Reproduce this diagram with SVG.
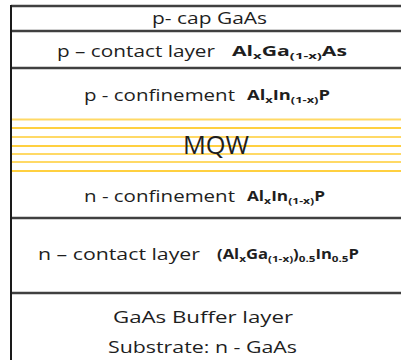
<svg xmlns="http://www.w3.org/2000/svg" width="401" height="360" viewBox="0 0 401 360">
<style>
.bg{fill:#ffffff}
.div{stroke:#404040;stroke-width:2.5;fill:none}
.border{stroke:#1a1a1a;stroke-width:2;fill:none}
.qw{stroke:#FFC000;stroke-width:1.5;fill:none}
.qwl{stroke:#FFD966;stroke-width:2;fill:none}
.t{font-family:"Open Sans","Noto Sans","DejaVu Sans",sans-serif;font-size:17px;fill:#1e1e1e}
.big{font-size:25px}
.f{font-family:"Open Sans","Noto Sans","DejaVu Sans",sans-serif;font-weight:bold;font-size:13.5px;fill:#1e1e1e}
.s{font-size:9.5px}
</style>
<rect class="bg" x="0" y="0" width="401" height="360"/>
<g id="connectors">
<line class="div" x1="11" y1="6" x2="401" y2="6"/>
<line class="div" x1="11" y1="31" x2="401" y2="31"/>
<line class="div" x1="11" y1="68" x2="401" y2="68"/>
<line class="div" x1="11" y1="218" x2="401" y2="218"/>
<line class="div" x1="11" y1="293" x2="401" y2="293"/>
<line class="border" x1="11" y1="5" x2="11" y2="360"/>
</g>
<g id="cap">
<text class="t" x="152" y="24" textLength="115" lengthAdjust="spacingAndGlyphs">p- cap GaAs</text>
</g>
<g id="p-contact">
<text class="t" x="57" y="57" textLength="158" lengthAdjust="spacingAndGlyphs">p – contact layer</text>
<text class="f" x="232" y="56" textLength="115" lengthAdjust="spacingAndGlyphs">Al<tspan class="s" dy="3">x</tspan><tspan dy="-3">Ga</tspan><tspan class="s" dy="3">(1-x)</tspan><tspan dy="-3">As</tspan></text>
</g>
<g id="p-confinement">
<text class="t" x="84" y="101" textLength="151" lengthAdjust="spacingAndGlyphs">p - confinement</text>
<text class="f" x="247" y="100" textLength="83" lengthAdjust="spacingAndGlyphs">Al<tspan class="s" dy="3">x</tspan><tspan dy="-3">In</tspan><tspan class="s" dy="3">(1-x)</tspan><tspan dy="-3">P</tspan></text>
</g>
<g id="mqw">
<line class="qwl" x1="12" y1="119.5" x2="401" y2="119.5"/>
<line class="qw" x1="12" y1="128" x2="401" y2="128"/>
<line class="qwl" x1="12" y1="137" x2="401" y2="137"/>
<line class="qw" x1="12" y1="146" x2="401" y2="146"/>
<line class="qwl" x1="12" y1="154" x2="401" y2="154"/>
<line class="qwl" x1="12" y1="162" x2="401" y2="162"/>
<line class="qw" x1="12" y1="171" x2="401" y2="171"/>
<text class="t big" x="183" y="154" textLength="66" lengthAdjust="spacingAndGlyphs">MQW</text>
</g>
<g id="n-confinement">
<text class="t" x="84" y="202" textLength="151" lengthAdjust="spacingAndGlyphs">n - confinement</text>
<text class="f" x="247" y="201" textLength="78" lengthAdjust="spacingAndGlyphs">Al<tspan class="s" dy="3">x</tspan><tspan dy="-3">In</tspan><tspan class="s" dy="3">(1-x)</tspan><tspan dy="-3">P</tspan></text>
</g>
<g id="n-contact">
<text class="t" x="38" y="260" textLength="162" lengthAdjust="spacingAndGlyphs">n – contact layer</text>
<text class="f" x="217" y="259" textLength="142" lengthAdjust="spacingAndGlyphs">(Al<tspan class="s" dy="3">x</tspan><tspan dy="-3">Ga</tspan><tspan class="s" dy="3">(1-x)</tspan><tspan dy="-3">)</tspan><tspan class="s" dy="3">0.5</tspan><tspan dy="-3">In</tspan><tspan class="s" dy="3">0.5</tspan><tspan dy="-3">P</tspan></text>
</g>
<g id="substrate">
<text class="t" x="113" y="323" textLength="180" lengthAdjust="spacingAndGlyphs">GaAs Buffer layer</text>
<text class="t" x="108" y="353" textLength="189" lengthAdjust="spacingAndGlyphs">Substrate: n - GaAs</text>
</g>
</svg>
